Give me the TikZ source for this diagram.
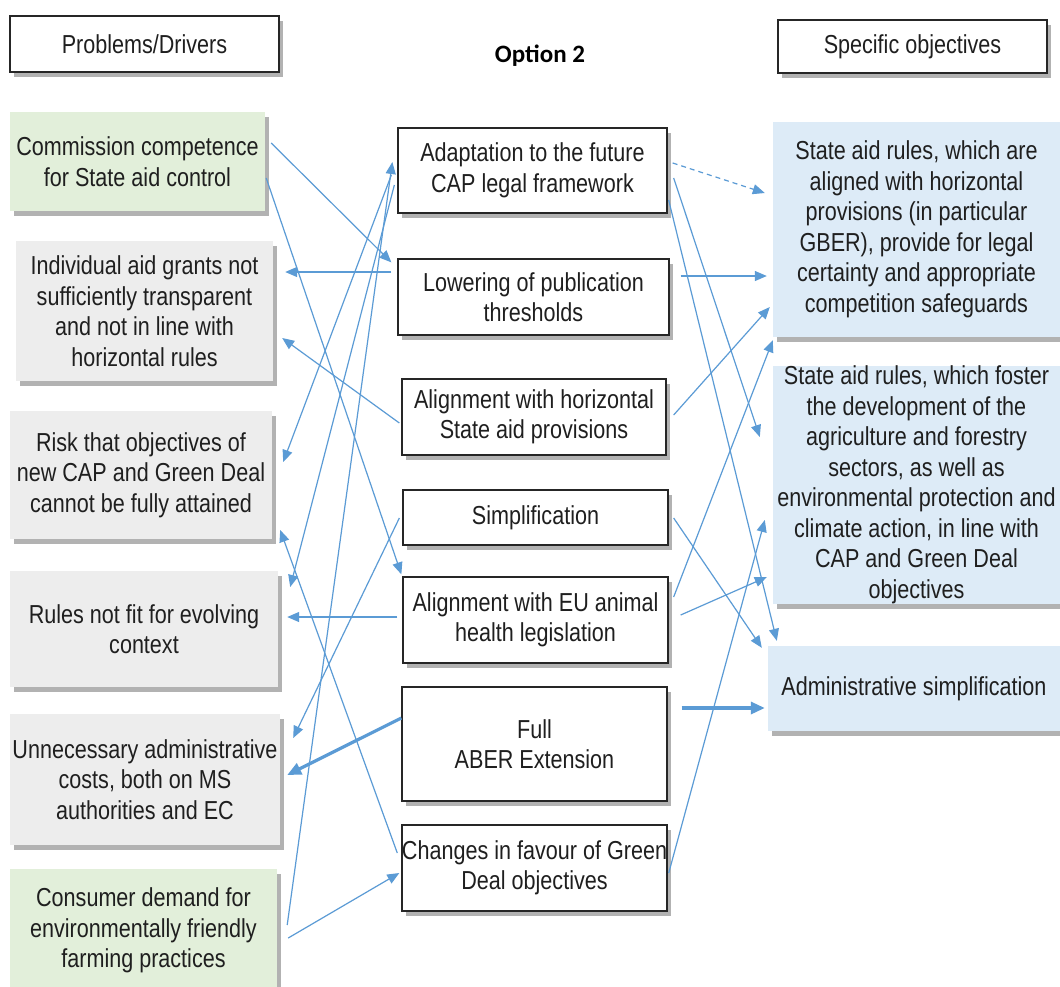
\documentclass[tikz,border=0pt]{standalone}
\usepackage{fontspec}
\setmainfont{Liberation Sans}[FakeStretch=0.83]
\newfontfamily\optfont{Carlito}
\usetikzlibrary{shadows,arrows.meta,calc}
\definecolor{lnblue}{HTML}{5B9BD5}
\definecolor{grayfill}{HTML}{EDEDED}
\definecolor{greenfill}{HTML}{E2EFDA}
\definecolor{bluefill}{HTML}{DDEBF7}
\begin{document}
\begin{tikzpicture}[x=1pt,y=-1pt,
  txt/.style={font=\fontsize{26}{30.5}\selectfont, text=black!88, align=center, inner sep=0pt},
  shad/.style={drop shadow={shadow xshift=4pt,shadow yshift=-5pt,fill=black,opacity=0.3}},
  hdr/.style={txt, draw=black!85, line width=1.3pt, fill=white, shad},
  mid/.style={txt, draw=black!85, line width=1.3pt, fill=white, shad},
  prob/.style={txt, fill=grayfill, shad},
  drv/.style={txt, fill=greenfill, shad},
  obj/.style={txt, fill=bluefill, shad},
  conn/.style={draw=lnblue, line width=1.2pt, -{Triangle[length=12pt,width=10pt]}},
  thickconn/.style={draw=lnblue, line width=3.2pt, -{Triangle[length=14pt,width=12pt]}},
]
\useasboundingbox (0,0) rectangle (1060,986);
\fill[white] (0,0) rectangle (1060,986);

% headers
\node[hdr, minimum width=269pt, minimum height=56pt] (hdrL) at (144.5,44) {Problems/Drivers};
\node[hdr, minimum width=269pt, minimum height=53pt] (hdrR) at (912.5,46.5) {Specific objectives};
\node[font=\optfont\bfseries\fontsize{25}{30}\selectfont, inner sep=0pt] (title) at (540,56) {Option 2};

% problems / drivers
\node[drv, minimum width=255pt, minimum height=99pt] (p1) at (137.5,161.5) {Commission competence\\for State aid control};
\node[prob, minimum width=257pt, minimum height=140pt] (p2) at (144.5,311) {Individual aid grants not\\sufficiently transparent\\and not in line with\\horizontal rules};
\node[prob, minimum width=262pt, minimum height=128pt] (p3) at (141,475) {Risk that objectives of\\new CAP and Green Deal\\cannot be fully attained};
\node[prob, minimum width=268pt, minimum height=116pt] (p4) at (144,629) {Rules not fit for evolving\\context};
\node[prob, minimum width=270pt, minimum height=131pt] (p5) at (145,779.5) {Unnecessary administrative\\costs, both on MS\\authorities and EC};
\node[drv, minimum width=267pt, minimum height=123pt] (p6) at (143.5,930.5) {Consumer demand for\\environmentally friendly\\farming practices};

% options
\node[mid, minimum width=269pt, minimum height=85pt] (m1) at (532.5,170.5) {Adaptation to the future\\CAP legal framework};
\node[mid, minimum width=271pt, minimum height=76pt] (m2) at (533.5,297) {Lowering of publication\\thresholds};
\node[mid, minimum width=264pt, minimum height=76pt] (m3) at (534,417) {Alignment with horizontal\\State aid provisions};
\node[mid, minimum width=265pt, minimum height=55pt] (m4) at (535.5,517.5) {Simplification};
\node[mid, minimum width=265pt, minimum height=86pt] (m5) at (535.5,620) {Alignment with EU animal\\health legislation};
\node[mid, minimum width=265pt, minimum height=114pt] (m6) at (534.5,744) {Full\\ABER Extension};
\node[mid, minimum width=265pt, minimum height=86pt] (m7) at (534.5,868) {Changes in favour of Green\\Deal objectives};

% objectives
\node[obj, minimum width=287pt, minimum height=215pt] (o1) at (916.5,229.5) {State aid rules, which are\\aligned with horizontal\\provisions (in particular\\GBER), provide for legal\\certainty and appropriate\\competition safeguards};
\node[obj, minimum width=287pt, minimum height=238pt] (o2) at (916.5,485) {State aid rules, which foster\\the development of the\\agriculture and forestry\\sectors, as well as\\environmental protection and\\climate action, in line with\\CAP and Green Deal\\objectives};
\node[obj, minimum width=292pt, minimum height=85pt] (o3) at (914,688.5) {Administrative simplification};

% left-side connectors
\draw[conn] ($(p1.east)+(6,-18.5)$) -- ($(m2.north west)+(-6,4)$);
\draw[conn] ($(p1.east)+(1,16.5)$) -- ($(m5.north west)+(-1,-2)$);
\draw[conn] ($(m2.west)+(-6,-25)$) -- ($(p2.east)+(12,-39)$);
\draw[conn] ($(m3.west)+(-2,6)$) -- ($(p2.east)+(9,27)$);
\draw[conn] ($(m1.west)+(-6,4.5)$) -- ($(p3.east)+(11,-13)$);
\draw[conn] ($(m1.west)+(-3,14.5)$) -- ($(p4.east)+(12,-42)$);
\draw[conn] ($(m5.west)+(-5,-3)$) -- ($(p4.east)+(9,-12)$);
\draw[conn] ($(m4.west)+(-3,0.5)$) -- ($(p5.east)+(13,-41.5)$);
\draw[thickconn] ($(m6.west)+(0,-26)$) -- ($(p5.east)+(7,-4.5)$);
\draw[conn] ($(m7.west)+(-4,-15)$) -- ($(p3.east)+(8,55)$);
\draw[conn] ($(p6.east)+(10,-5.5)$) -- ($(m1.west)+(-5,-8.5)$);
\draw[conn] ($(p6.east)+(11,7.5)$) -- ($(m7.west)+(-2,5)$);

% right-side connectors
\draw[conn, dash pattern=on 5pt off 4pt] ($(m1.east)+(5,-7.5)$) -- ($(o1.west)+(-8,-36.5)$);
\draw[conn] ($(m1.east)+(6,7.5)$) -- ($(o2.west)+(-13,-48)$);
\draw[conn] ($(m1.east)+(1,29.5)$) -- ($(o3.north west)+(9,-5)$);
\draw[conn] ($(m2.east)+(11,-21)$) -- ($(o1.west)+(-6,46.5)$);
\draw[conn] ($(m3.east)+(7,-2)$) -- ($(o1.west)+(-3,77.5)$);
\draw[conn] ($(m5.east)+(5,-23)$) -- ($(o1.south west)+(0,3)$);
\draw[conn] ($(m4.east)+(5,0.5)$) -- ($(o3.north west)+(-6,2)$);
\draw[conn] ($(m5.east)+(12,-5)$) -- ($(o2.west)+(-6,92)$);
\draw[conn] ($(m7.east)+(1,5)$) -- ($(o2.west)+(-8,35)$);
\draw[thickconn] ($(m6.east)+(14,-36)$) -- ($(o3.west)+(-3,19.5)$);
\end{tikzpicture}
\end{document}
